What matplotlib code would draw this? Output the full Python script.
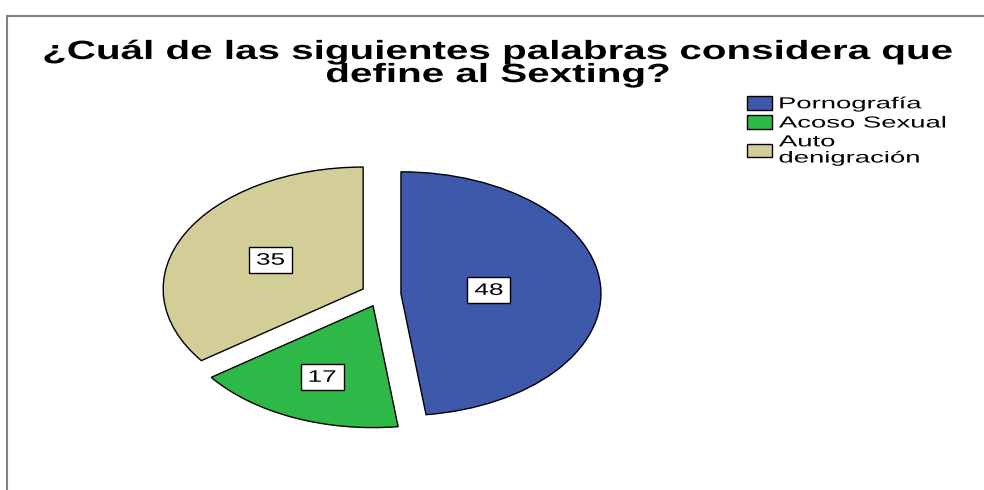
import numpy as np
import matplotlib.pyplot as plt
from matplotlib.lines import Line2D
from matplotlib.patheffects import AbstractPathEffect
from matplotlib.transforms import Affine2D

# Datos del gráfico
categorias = ['Pornografía', 'Acoso Sexual', 'Auto\ndenigración']
valores = [48, 17, 35]
colores = ['#3E58AC', '#2EB848', '#D3CE97']
titulo = '¿Cuál de las siguientes palabras considera que\ndefine al Sexting?'

# distancia de cada etiqueta al vértice de su sector
dist_etiquetas = [0.44, 0.64, 0.52]

plt.rcParams['font.family'] = ['Liberation Sans', 'DejaVu Sans']


class Stretch(AbstractPathEffect):
    """Estira el texto en horizontal (las fuentes de SPSS salen anchas)."""

    def __init__(self, sx, anchor='center'):
        super().__init__()
        self.sx = sx
        self.anchor = anchor

    def draw_path(self, renderer, gc, tpath, affine, rgbFace=None):
        ext = tpath.transformed(affine).get_extents()
        cx = ext.x0 if self.anchor == 'left' else (ext.x0 + ext.x1) / 2
        tr = affine + Affine2D().translate(-cx, 0).scale(self.sx, 1).translate(cx, 0)
        renderer.draw_path(gc, tpath, tr, rgbFace)


W, H = 984, 490
fig = plt.figure(figsize=(W / 100, H / 100), dpi=100)

# pie axes: 1 unit = 200 px horizontally, 122 px vertically
ax = fig.add_axes([81 / W, 37 / H, 600 / W, 317 / H])
wedges, texts = ax.pie(valores, colors=colores, startangle=90, counterclock=False,
                       explode=[0.1] * len(valores),
                       wedgeprops=dict(edgecolor='black', linewidth=1))
ax.set_aspect('auto')
ax.set_xlim(-1.5, 1.5)
ax.set_ylim(-1.3, 1.3)

# etiquetas de valor en cajas blancas
for w, v, d in zip(wedges, valores, dist_etiquetas):
    ang = np.deg2rad((w.theta1 + w.theta2) / 2)
    cx, cy = w.center
    ax.text(cx + d * np.cos(ang), cy + d * np.sin(ang), str(v),
            ha='center', va='center', fontsize=12,
            path_effects=[Stretch(1.57)],
            bbox=dict(boxstyle='square,pad=0.33', facecolor='white',
                      edgecolor='black', linewidth=1,
                      path_effects=[Stretch(1.45)]))

fig.text(498 / W, 1 - 40 / H, titulo, ha='center', va='top', fontsize=19,
         fontweight='bold', linespacing=0.95, path_effects=[Stretch(1.53)])

leg = fig.legend(wedges, categorias, loc='upper left',
                 bbox_to_anchor=(747 / W, 1 - 96 / H), frameon=False,
                 fontsize=11.5, handlelength=1.56, handleheight=0.94,
                 handletextpad=0.44, labelspacing=0.24, borderpad=0,
                 borderaxespad=0)
for t in leg.get_texts():
    t.set_linespacing(1.1)
    t.set_path_effects([Stretch(1.72, anchor='left')])

# marco gris superior e izquierdo
fig.add_artist(Line2D([7 / W, 1], [1 - 16 / H] * 2, color='#808080', lw=1.5))
fig.add_artist(Line2D([7 / W] * 2, [0, 1 - 16 / H], color='#808080', lw=1.5))

fig.savefig('out.png', dpi=100)
